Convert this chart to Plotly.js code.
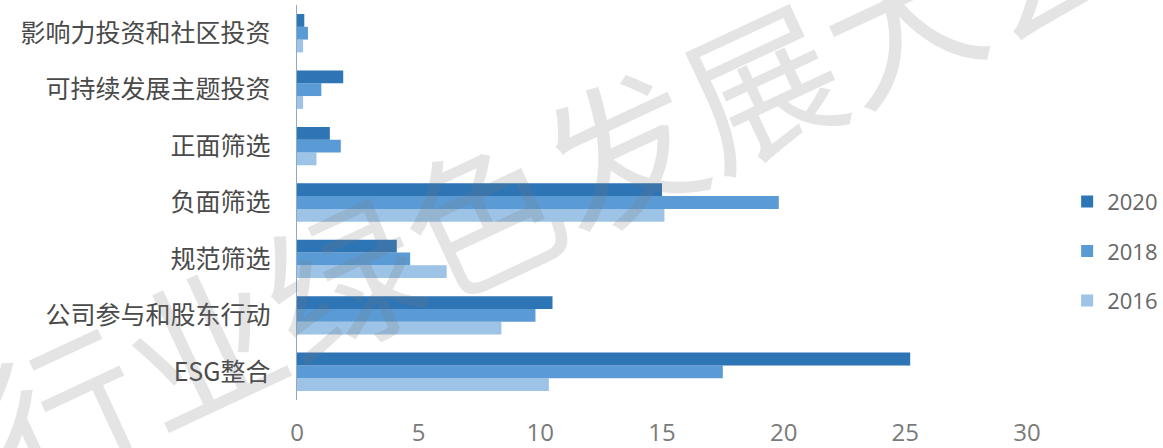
<!DOCTYPE html>
<html>
<head>
<meta charset="utf-8">
<script src="https://cdn.plot.ly/plotly-3.0.1.min.js"></script>
<style>
  html, body { margin: 0; padding: 0; background: #ffffff; }
  #chart { width: 1163px; height: 448px; }
</style>
</head>
<body>
<div id="chart"></div>
<script>
// Strategy names, listed top to bottom as they appear on the chart
const categories = [
  '影响力投资和社区投资',
  '可持续发展主题投资',
  '正面筛选',
  '负面筛选',
  '规范筛选',
  '公司参与和股东行动',
  'ESG整合'
];

// Assets by strategy (trillion USD), same order as categories
const values2020 = [0.3, 1.9, 1.35, 15.0, 4.1, 10.5, 25.2];
const values2018 = [0.45, 1.0, 1.8, 19.8, 4.65, 9.8, 17.5];
const values2016 = [0.25, 0.25, 0.8, 15.1, 6.15, 8.4, 10.35];

const seriesNames = ['2016', '2018', '2020'];
const xTicks = [0, 5, 10, 15, 20, 25, 30];

const colors = { '2020': '#2e75b6', '2018': '#5b9bd5', '2016': '#9dc3e6' };
const seriesValues = { '2020': values2020, '2018': values2018, '2016': values2016 };
// newest year listed first in the legend
const legendRanks = { '2020': 1, '2018': 2, '2016': 3 };

const cjk = '"Noto Sans CJK SC", "Noto Sans", sans-serif';
const latin = '"Liberation Sans Narrow", "Open Sans", "Noto Sans", sans-serif';

// 2016 is drawn first so it sits lowest within each group
const traces = seriesNames.map(name => ({
  type: 'bar',
  orientation: 'h',
  name: name,
  legendgroup: name,
  legendrank: legendRanks[name],
  y: categories,
  x: seriesValues[name],
  marker: { color: colors[name], line: { width: 0 } },
  hoverinfo: 'x+name'
}));

const layout = {
  width: 1163,
  height: 448,
  margin: { l: 297, r: 136, t: 5, b: 48, autoexpand: false },
  paper_bgcolor: '#ffffff',
  plot_bgcolor: '#ffffff',
  barmode: 'group',
  bargap: 0.32,
  bargroupgap: 0,
  showlegend: true,
  legend: {
    x: 1.055,
    y: 0.377,
    xanchor: 'left',
    yanchor: 'middle',
    traceorder: 'grouped',
    tracegroupgap: 18,
    font: { family: '"Open Sans", "Noto Sans", sans-serif', size: 22, color: '#666666' },
    bgcolor: 'rgba(0,0,0,0)'
  },
  xaxis: {
    range: [0, 30],
    tickvals: xTicks,
    ticktext: xTicks.map(String),
    showgrid: false,
    zeroline: false,
    showline: false,
    ticks: '',
    ticklabelstandoff: 16,
    tickfont: { family: latin, size: 24, color: '#7a7a7a' },
    fixedrange: true
  },
  yaxis: {
    type: 'category',
    categoryorder: 'array',
    categoryarray: categories.slice().reverse(),
    showgrid: false,
    zeroline: false,
    showline: true,
    linecolor: '#8fa9cc',
    linewidth: 1.5,
    ticks: '',
    ticklabelstandoff: 20,
    tickfont: { family: cjk, size: 25, color: '#4a4a4a' },
    fixedrange: true
  },
  annotations: [{
    // faint diagonal watermark across the chart
    text: '行业绿色发展大会',
    xref: 'paper',
    yref: 'paper',
    x: 0.345,
    y: 0.565,
    xanchor: 'center',
    yanchor: 'middle',
    showarrow: false,
    textangle: -25,
    font: { family: cjk, size: 154, color: 'rgba(120,120,120,0.2)' }
  }]
};

Plotly.newPlot('chart', traces, layout, { displayModeBar: false, staticPlot: true });
</script>
</body>
</html>
